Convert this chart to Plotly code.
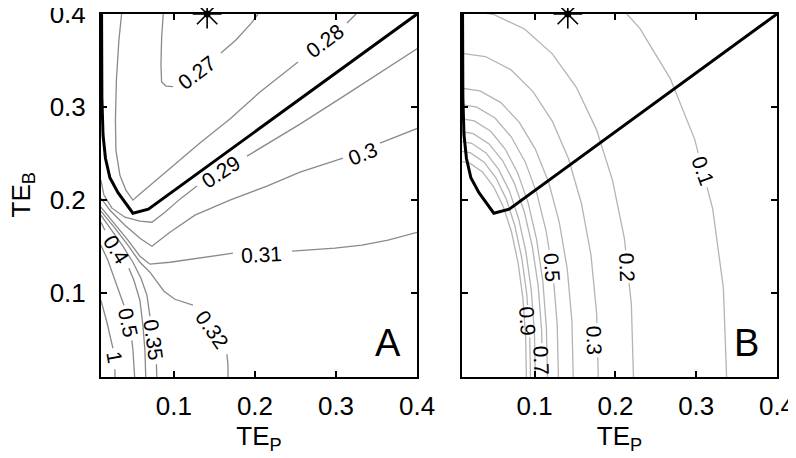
import plotly.graph_objects as go

FONT = "Liberation Sans, Arial, Helvetica, sans-serif"
GRAY_A = "#8a8a8a"   # contour lines, panel A
GRAY_B = "#b4b4b4"   # contour lines, panel B

TICKS = [0.1, 0.2, 0.3, 0.4]
TICK_TEXT = ["0.1", "0.2", "0.3", "0.4"]

# thick black boundary (same in both panels)
BOUND_X = [0.0107, 0.0111, 0.0125, 0.0155, 0.021, 0.031, 0.0494, 0.0685, 0.4]
BOUND_Y = [0.40, 0.31, 0.27, 0.245, 0.224, 0.208, 0.186, 0.1903, 0.40]

# optimum marker
STAR_X = [0.141]
STAR_Y = [0.40]

# ---- panel A contours (None = gap where the label sits) ----
A27_X = [0.0868, 0.0848, 0.0840, 0.0848, 0.0901, 0.0988, None, 0.158, 0.1765, 0.1963, 0.2037]
A27_Y = [0.40, 0.3742, 0.3452, 0.3269, 0.3226, 0.3220, None, 0.358, 0.372, 0.391, 0.40]
A28_X = [0.0354, 0.0321, 0.0290, 0.0278, 0.0284, 0.0333, 0.0407, 0.0494, 0.058, 0.0951, 0.1321,
         0.1691, 0.2062, 0.2531, None, 0.3136, 0.3247]
A28_Y = [0.40, 0.372, 0.329, 0.286, 0.2538, 0.2269, 0.2108, 0.20, 0.2065, 0.2344, 0.2613,
         0.2871, 0.3161, 0.3484, None, 0.3903, 0.40]
A29_X = [0.0099, 0.0136, 0.0235, 0.0395, 0.058, 0.0728, 0.0889, 0.1074, 0.1284, None, 0.1901, 0.2556, 0.3173, 0.4012]
A29_Y = [0.2215, 0.2054, 0.1914, 0.1817, 0.1774, 0.1763, 0.1871, 0.2011, 0.2151, None, 0.2473, 0.2817, 0.3161, 0.3634]
A30_X = [0.0099, 0.021, 0.0395, 0.058, 0.0728, 0.0951, 0.1259, 0.1691, 0.2148, 0.2556, 0.3086, None, 0.3543, 0.4012]
A30_Y = [0.2022, 0.1892, 0.1731, 0.1591, 0.1505, 0.1656, 0.1839, 0.2, 0.2151, 0.2301, 0.2452, None, 0.2613, 0.2774]
A31_X = [0.0099, 0.0272, 0.0432, 0.058, 0.0704, 0.0951, 0.1321, 0.1728, None, 0.2457, 0.2988, 0.3321, 0.3642, 0.4012]
A31_Y = [0.1925, 0.1742, 0.157, 0.1398, 0.1312, 0.1333, 0.1376, 0.143, None, 0.1452, 0.1484, 0.1516, 0.157, 0.1656]
A32_X = [0.0099, 0.0272, 0.0432, 0.058, 0.0704, 0.079, 0.0877, 0.1012, 0.1235, None, 0.1654, 0.1667, 0.1667]
A32_Y = [0.1882, 0.1699, 0.1516, 0.1333, 0.1226, 0.1129, 0.1022, 0.0935, 0.0871, None, 0.0344, 0.0226, 0.005]
A35_X = [0.0099, 0.0235, 0.037, 0.0494, 0.0593, 0.0667, 0.0704, None, 0.0784, 0.079]
A35_Y = [0.1839, 0.1677, 0.1505, 0.1333, 0.1161, 0.0978, 0.0753, None, 0.0237, 0.005]
A40_X = [0.0099, 0.0148, None, 0.0444, 0.0506, 0.058, 0.0617, 0.0642, 0.0654]
A40_Y = [0.1763, 0.1677, None, 0.1269, 0.114, 0.0925, 0.0656, 0.0387, 0.005]
A50_X = [0.0099, 0.0185, 0.0272, 0.0358, 0.0383, None, 0.0481, 0.0494, 0.0519]
A50_Y = [0.1516, 0.1355, 0.114, 0.0925, 0.0871, None, 0.0495, 0.0387, 0.005]
A100_X = [0.0099, 0.0173, 0.0247, None, 0.0272, 0.0272]
A100_Y = [0.0925, 0.0688, 0.0409, None, 0.0183, 0.005]

A_LABEL_TEXT = ["0.27", "0.28", "0.29", "0.3", "0.31", "0.32", "0.35", "0.4", "0.5", "1"]
A_LABEL_X = [0.128, 0.2864, 0.158, 0.3333, 0.2086, 0.1475, 0.0753, 0.0293, 0.0438, 0.0272]
A_LABEL_Y = [0.3376, 0.372, 0.2312, 0.2505, 0.1419, 0.0613, 0.0495, 0.1473, 0.0688, 0.0312]
A_LABEL_ANGLE = [-37, -37, -33, -22, -3, 55, 82, 58, 78, 80]

# ---- panel B contours ----
B10_X = [0.1849, 0.2302, 0.2680, 0.2981, 0.3025, None, 0.3134, 0.3204, 0.3336, 0.338]
B10_Y = [0.4278, 0.3846, 0.3303, 0.2653, 0.2505, None, 0.214, 0.1906, 0.1057, 0.0]
B20_X = [0.0, 0.0485, 0.0875, 0.1218, 0.1516, 0.1765, 0.1963, 0.2110, 0.2126, None, 0.2169, 0.2197, 0.2226]
B20_Y = [0.405, 0.3997, 0.3839, 0.3572, 0.3212, 0.2758, 0.2215, 0.1592, 0.1462, None, 0.1108, 0.0883, 0.0]
B30_X = [0.0, 0.039, 0.0703, 0.0979, 0.1219, 0.1419, 0.1579, 0.1697, 0.1767, 0.177, None, 0.1781, 0.179]
B30_Y = [0.359, 0.3543, 0.3403, 0.3166, 0.2847, 0.2445, 0.1964, 0.1411, 0.0783, 0.0677, None, 0.0312, 0.0]
B40_X = [0.0, 0.0323, 0.0582, 0.081, 0.1008, 0.1174, 0.1305, 0.1403, 0.1461, 0.148]
B40_Y = [0.3215, 0.3173, 0.3048, 0.2836, 0.2549, 0.2189, 0.1759, 0.1263, 0.0701, 0.0]
B50_X = [0.0, 0.0283, 0.0509, 0.0709, 0.0883, 0.1028, 0.1143, 0.118, None, 0.1237, 0.1279, 0.1296]
B50_Y = [0.304, 0.3, 0.2882, 0.2681, 0.2411, 0.207, 0.1663, 0.1462, None, 0.1108, 0.0663, 0.0]
B60_X = [0.0, 0.0253, 0.0456, 0.0635, 0.079, 0.092, 0.1023, 0.11, 0.1145, 0.116]
B60_Y = [0.289, 0.2852, 0.274, 0.2549, 0.2292, 0.1968, 0.1581, 0.1136, 0.063, 0.0]
B70_X = [0.0, 0.024, 0.0432, 0.0602, 0.0749, 0.0872, 0.097, 0.1043, 0.1086, 0.1089]
B70_Y = [0.275, 0.2714, 0.2607, 0.2426, 0.2181, 0.1873, 0.1504, 0.1081, 0.06, 0.0462]
B80_X = [0.0, 0.022, 0.0397, 0.0552, 0.0688, 0.0801, 0.0891, 0.0957, 0.0997, 0.101]
B80_Y = [0.2645, 0.2611, 0.2507, 0.2333, 0.2097, 0.1801, 0.1447, 0.1039, 0.0577, 0.0]
B90_X = [0.0, 0.0207, 0.0373, 0.052, 0.0647, 0.0753, 0.0838, 0.0901, 0.0912, None, 0.0939, 0.095]
B90_Y = [0.254, 0.2507, 0.2408, 0.224, 0.2014, 0.173, 0.1389, 0.0998, 0.0871, None, 0.0527, 0.0]
B100_X = [0.0, 0.0196, 0.0354, 0.0492, 0.0613, 0.0714, 0.0794, 0.0853, 0.0888, 0.09]
B100_Y = [0.243, 0.2398, 0.2304, 0.2143, 0.1927, 0.1655, 0.1329, 0.0955, 0.053, 0.0]

B_LABEL_TEXT = ["0.1", "0.2", "0.3", "0.5", "0.7", "0.9"]
B_LABEL_X = [0.3086, 0.2148, 0.1741, 0.1219, 0.1086, 0.0914]
B_LABEL_Y = [0.2323, 0.128, 0.0495, 0.128, 0.028, 0.0699]
B_LABEL_ANGLE = [70, 88, 88, 86, 88, 86]

fig = go.Figure()


def line(x, y, color, width, xa, ya):
    fig.add_trace(go.Scatter(
        x=x, y=y, mode="lines", xaxis=xa, yaxis=ya,
        line=dict(color=color, width=width),
        showlegend=False, hoverinfo="skip",
    ))


for xs, ys in [(A27_X, A27_Y), (A28_X, A28_Y), (A29_X, A29_Y), (A30_X, A30_Y), (A31_X, A31_Y),
               (A32_X, A32_Y), (A35_X, A35_Y), (A40_X, A40_Y), (A50_X, A50_Y), (A100_X, A100_Y)]:
    line(xs, ys, GRAY_A, 1.3, "x", "y")

for xs, ys in [(B10_X, B10_Y), (B20_X, B20_Y), (B30_X, B30_Y), (B40_X, B40_Y), (B50_X, B50_Y),
               (B60_X, B60_Y), (B70_X, B70_Y), (B80_X, B80_Y), (B90_X, B90_Y), (B100_X, B100_Y)]:
    line(xs, ys, GRAY_B, 1.3, "x2", "y2")

for xa, ya in [("x", "y"), ("x2", "y2")]:
    line(BOUND_X, BOUND_Y, "black", 3, xa, ya)
    fig.add_trace(go.Scatter(
        x=STAR_X, y=STAR_Y, mode="markers", xaxis=xa, yaxis=ya, cliponaxis=False,
        marker=dict(symbol="asterisk-open", size=24, color="black",
                    line=dict(width=1.6, color="black")),
        showlegend=False, hoverinfo="skip",
    ))
    fig.add_trace(go.Scatter(
        x=STAR_X, y=STAR_Y, mode="markers", xaxis=xa, yaxis=ya, cliponaxis=False,
        marker=dict(symbol="circle", size=7, color="black"),
        showlegend=False, hoverinfo="skip",
    ))

annotations = []
for t, x, y, a in zip(A_LABEL_TEXT, A_LABEL_X, A_LABEL_Y, A_LABEL_ANGLE):
    annotations.append(dict(x=x, y=y, xref="x", yref="y", text=t, textangle=a, showarrow=False,
                            font=dict(size=21, color="black", family=FONT)))
for t, x, y, a in zip(B_LABEL_TEXT, B_LABEL_X, B_LABEL_Y, B_LABEL_ANGLE):
    annotations.append(dict(x=x, y=y, xref="x2", yref="y2", text=t, textangle=a, showarrow=False,
                            font=dict(size=21, color="black", family=FONT)))
annotations.append(dict(x=0.955, y=0.03, xref="x domain", yref="y domain", text="A",
                        xanchor="right", yanchor="bottom", showarrow=False,
                        font=dict(size=38, color="black", family=FONT)))
annotations.append(dict(x=0.95, y=0.03, xref="x2 domain", yref="y2 domain", text="B",
                        xanchor="right", yanchor="bottom", showarrow=False,
                        font=dict(size=38, color="black", family=FONT)))
# y-axis title
annotations.append(dict(x=0, y=0.5, xref="x domain", yref="y domain", text="TE<sub>B</sub>",
                        textangle=-90, xanchor="center", yanchor="middle", xshift=-79,
                        showarrow=False, font=dict(size=26, color="black", family=FONT)))

axis = dict(
    range=[0.01, 0.4], tickvals=TICKS, ticktext=TICK_TEXT,
    ticks="inside", ticklen=6, tickwidth=1.5, tickcolor="black",
    showline=True, linecolor="black", linewidth=2, mirror="allticks",
    showgrid=False, zeroline=False, automargin=False, ticklabeloverflow="allow",
    tickfont=dict(size=26, color="black", family=FONT),
)

# the page body adds an 8px offset, so the figure is 8px smaller than the window
fig.update_layout(
    width=788, height=450,
    margin=dict(l=93, r=19, t=6, b=81),
    plot_bgcolor="white", paper_bgcolor="white",
    font=dict(family=FONT, color="black"),
    xaxis=dict(axis, domain=[0, 0.4675], ticklabelstandoff=5,
               title=dict(text="TE<sub>P</sub>", font=dict(size=26), standoff=4)),
    xaxis2=dict(axis, domain=[0.534, 1], anchor="y2", ticklabelstandoff=5,
                title=dict(text="TE<sub>P</sub>", font=dict(size=26), standoff=4)),
    yaxis=dict(axis, ticklabelstandoff=8),
    yaxis2=dict(axis, anchor="x2", showticklabels=False),
    annotations=annotations,
)

fig.write_html("out.html")
